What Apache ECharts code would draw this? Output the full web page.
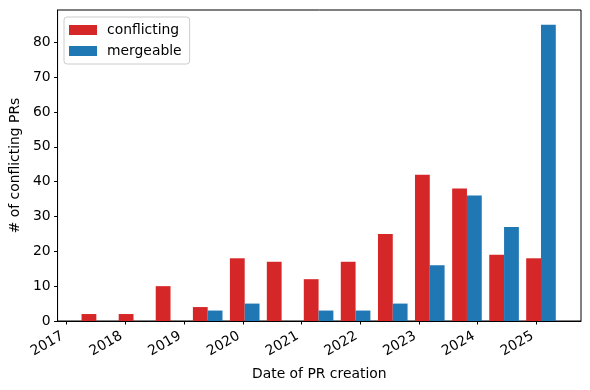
<!DOCTYPE html>
<html>
<head>
<meta charset="utf-8">
<script src="https://cdn.jsdelivr.net/npm/echarts@6/dist/echarts.min.js"></script>
<style>html,body{margin:0;padding:0;background:#fff}#c{width:590px;height:390px}</style>
</head>
<body>
<div id="c"></div>
<script>
// Bin centre dates (PR creation histogram bins)
var binDates = ["2017-07-05","2018-02-21","2018-10-09","2019-05-28","2020-01-13","2020-08-30","2021-04-17","2021-12-03","2022-07-22","2023-03-09","2023-10-26","2024-06-13","2025-01-29"];
var conflicting = [2, 2, 10, 4, 18, 17, 12, 17, 25, 42, 38, 19, 18];
var mergeable   = [0, 0, 0, 3, 5, 0, 3, 3, 5, 16, 36, 27, 85];
var yearTicks = [2017, 2018, 2019, 2020, 2021, 2022, 2023, 2024, 2025];
var yTicks = [0, 10, 20, 30, 40, 50, 60, 70, 80];

function toYear(s) {
  var p = s.split('-').map(Number);
  var y = p[0];
  var t = Date.UTC(y, p[1] - 1, p[2]);
  var a = Date.UTC(y, 0, 1), b = Date.UTC(y + 1, 0, 1);
  return y + (t - a) / (b - a);
}
var xs = binDates.map(toYear);
function pairs(vals) { return vals.map(function (v, i) { return [xs[i], v]; }); }

var font = "DejaVu Sans";
var chart = echarts.init(document.getElementById('c'), null, {renderer: 'canvas'});
chart.setOption({
  animation: false,
  textStyle: {fontFamily: font},
  grid: {left: 57, right: 9, top: 10, bottom: 69, show: true, borderColor: '#000', borderWidth: 1, backgroundColor: 'transparent'},
  legend: {
    orient: 'vertical', left: 64, top: 17,
    itemWidth: 28, itemHeight: 10, itemGap: 7,
    padding: [6, 8, 6, 5],
    backgroundColor: '#fff', borderColor: '#ccc', borderWidth: 1, borderRadius: 3,
    textStyle: {fontFamily: font, fontSize: 13.9, color: '#000', padding: [0, 0, 0, 5]},
    data: [{name: 'conflicting', icon: 'rect'}, {name: 'mergeable', icon: 'rect'}]
  },
  xAxis: {
    type: 'value', min: 2016.847, max: 2025.758,
    name: 'Date of PR creation', nameLocation: 'middle', nameGap: 46,
    nameTextStyle: {fontFamily: font, fontSize: 13.9, color: '#000'},
    axisLine: {show: true, onZero: false, lineStyle: {color: '#000', width: 1}},
    axisTick: {show: true, length: 3.5, lineStyle: {color: '#000'}, customValues: yearTicks},
    axisLabel: {fontFamily: font, fontSize: 13.9, color: '#000', rotate: 30, margin: 11.7, padding: [0, 4.6, 0, 0], customValues: yearTicks, formatter: function (v) { return String(Math.round(v)); }},
    splitLine: {show: false}
  },
  yAxis: {
    type: 'value', min: 0, max: 89.25,
    name: '# of conflicting PRs', nameLocation: 'middle', nameGap: 31,
    nameTextStyle: {fontFamily: font, fontSize: 13.9, color: '#000'},
    axisLine: {show: true, lineStyle: {color: '#000', width: 1}},
    axisTick: {show: true, length: 3.5, lineStyle: {color: '#000'}, customValues: yTicks},
    axisLabel: {fontFamily: font, fontSize: 13.9, color: '#000', margin: 7, customValues: yTicks},
    splitLine: {show: false}
  },
  series: [
    {name: 'conflicting', type: 'bar', data: pairs(conflicting), barWidth: 14.8, barGap: '0%', itemStyle: {color: '#d62728'}},
    {name: 'mergeable', type: 'bar', data: pairs(mergeable), barWidth: 14.8, barGap: '0%', itemStyle: {color: '#1f77b4'}}
  ]
});
</script>
</body>
</html>
